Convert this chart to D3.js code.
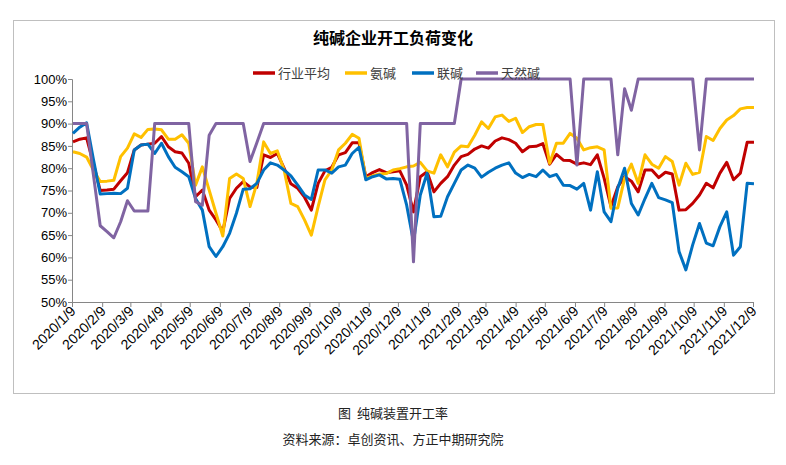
<!DOCTYPE html>
<html><head><meta charset="utf-8">
<script src="https://cdn.jsdelivr.net/npm/d3@7"></script>
<style>
html,body{margin:0;padding:0;background:#fff;}
svg{display:block;}
</style></head>
<body>
<svg id="chart" width="786" height="465"></svg>
<script>
const seriesNames = ["行业平均", "氨碱", "联碱", "天然碱"];
const seriesColors = ["#C00000", "#FFC000", "#0070C0", "#8064A2"];
const tickLabels = ["2020/1/9","2020/2/9","2020/3/9","2020/4/9","2020/5/9","2020/6/9","2020/7/9","2020/8/9","2020/9/9","2020/10/9","2020/11/9","2020/12/9","2021/1/9","2021/2/9","2021/3/9","2021/4/9","2021/5/9","2021/6/9","2021/7/9","2021/8/9","2021/9/9","2021/10/9","2021/11/9","2021/12/9"];
const yTicks = [50,55,60,65,70,75,80,85,90,95,100];

const industryAvg = [85.9,86.5,86.8,81,75,75.1,75.3,77.2,79,84.1,85.2,85.4,85.6,87.1,84.8,83.7,83.4,81.1,73.6,75.1,70.6,68.4,65.8,73.2,75.5,77,75.8,75.7,83,82.4,83.3,80,76.5,75.5,73.5,70.6,76.6,79.4,80.2,83,83.5,85.7,85.7,78.1,79,79.7,79,79.2,79.4,76.2,70.2,78.1,79.2,74.7,76.6,78.1,80.7,82.6,83.1,84.3,85,84.5,86.1,86.8,86.4,85.6,83.7,84.8,84.9,85.5,80.9,83.1,81.8,81.7,80.9,81.2,80.8,83,77.7,71.4,75.8,78.1,77.1,74.7,79.6,79.6,77.9,79.1,78.7,70.6,70.7,72.1,74,76.6,75.6,78.9,81.3,77.4,78.9,85.8,85.8];
const ammoniaSoda = [83.7,83.3,82.5,79.6,77,77.1,77.3,82.6,84.5,87.7,86.9,88.7,88.8,88.6,86.5,86.5,87.5,85.6,76.2,80.3,75.1,69.9,64.8,77.7,78.7,77.7,71.4,76.6,85.9,83.3,83.9,79.6,72.1,71.4,68.4,65,71.4,77.4,79.6,84.1,85.6,87.6,86.7,77.7,78.3,78.7,78.8,79.6,79.9,80.3,80.5,81.3,79.4,78.9,83,80.3,83.6,85,84.8,87.4,90.4,88.9,91.5,91.9,90.5,91.2,88,89.3,89.8,89.8,81.1,85.6,85.6,87.8,86.7,84.1,84.6,84.8,84.1,71,71.1,77.7,80.9,76.6,83,80.9,80,82.6,81.5,76.2,81.1,78.6,79.1,87.1,86.2,88.9,90.8,91.8,93.3,93.6,93.6];
const jointSoda = [87.8,89.2,90.2,82,74.2,74.3,74.4,74.3,75.5,84.1,85.2,85.4,83.3,85.6,82.6,80.2,79.2,78.1,73.2,70.6,62.4,60.2,62.4,65.4,69.9,75.3,75.4,76.6,79.6,81.2,80.7,79.6,78.3,76.2,74,73,79.6,79.6,78.9,80.3,80.7,83.3,84.7,77.4,78.1,78.5,77.6,77.7,77.5,71.7,63.5,74,78.9,69.1,69.2,73.6,76.6,79.6,80.7,80,78,79.1,80,80.7,81.2,78.9,77.9,78.6,78.1,79.6,78.1,78.6,76.2,76.1,75.3,76.6,70.6,79.2,70.2,68,75.5,80,72.1,69.5,73.2,76.6,73.4,72.9,72.3,61.3,57.2,62.8,67.6,63.2,62.6,66.9,70.2,60.5,62.4,76.6,76.5];
const naturalSoda = [90,90,90,78.5,67.1,65.8,64.4,68,72.7,70.4,70.4,70.4,90,90,90,90,90,90,72.5,71.7,87.4,90,90,90,90,90,81.5,85.7,90,90,90,90,90,90,90,90,90,90,90,90,90,90,90,90,90,90,90,90,90,90,59,90,90,90,90,90,90,100,100,100,100,100,100,100,100,100,100,100,100,100,100,100,100,100,80.7,100,100,100,100,100,83,97.8,93,100,100,100,100,100,100,100,100,100,84.1,100,100,100,100,100,100,100,100];

const parse = d3.timeParse("%Y/%m/%d");
const dates = d3.timeFriday.range(new Date(2020,0,10), new Date(2021,11,11));
const tickDates = tickLabels.map(parse);

const svg = d3.select("#chart");
const plotLeft = 72, plotRight = 753, plotTop = 79, plotBottom = 302;

svg.append("rect").attr("x",13.5).attr("y",20.5).attr("width",761).attr("height",373)
  .attr("fill","#fff").attr("stroke","#BFBFBF").attr("stroke-width",1);

const x = d3.scaleTime().domain([tickDates[0], tickDates[tickDates.length-1]]).range([plotLeft, plotRight]);
const y = d3.scaleLinear().domain([50,100]).range([plotBottom, plotTop]);

svg.append("text").attr("x",393).attr("y",44).attr("text-anchor","middle")
  .attr("font-family","'Noto Sans CJK SC'").attr("font-weight","bold").attr("font-size",16)
  .attr("fill","#000").text("纯碱企业开工负荷变化");

const yAxis = svg.append("g").attr("transform",`translate(${plotLeft},0)`)
  .call(d3.axisLeft(y).tickValues(yTicks).tickSize(4).tickFormat(d => d + "%"));
yAxis.select(".domain").attr("stroke","#868686");
yAxis.selectAll(".tick line").attr("stroke","#868686");
yAxis.selectAll("text").attr("font-family","'Liberation Sans Narrow','Liberation Sans',sans-serif")
  .attr("font-size",13).attr("fill","#000").attr("x",-5);

const xAxis = svg.append("g").attr("transform",`translate(0,${plotBottom})`)
  .call(d3.axisBottom(x).tickValues(tickDates).tickSize(5).tickFormat((d,i) => tickLabels[i]));
xAxis.select(".domain").attr("stroke","#868686");
xAxis.selectAll(".tick line").attr("stroke","#868686");
xAxis.selectAll("text").attr("font-family","'Liberation Sans Narrow','Liberation Sans',sans-serif")
  .attr("font-size",14).attr("fill","#000")
  .attr("text-anchor","end").attr("dx",0).attr("dy",0)
  .attr("transform","translate(4,10) rotate(-45)").attr("y",0).attr("x",0);

const allSeries = [industryAvg, ammoniaSoda, jointSoda, naturalSoda];
const line = d3.line().x((d,i) => x(dates[i])).y(d => y(d));
allSeries.forEach((s, k) => {
  svg.append("path").datum(s).attr("d", line).attr("fill","none")
    .attr("stroke", seriesColors[k]).attr("stroke-width",3).attr("stroke-linejoin","round");
});

const legendX = [253, 345, 412, 476];
const lg = svg.append("g");
seriesNames.forEach((n,k) => {
  lg.append("line").attr("x1",legendX[k]).attr("x2",legendX[k]+22).attr("y1",73).attr("y2",73)
    .attr("stroke",seriesColors[k]).attr("stroke-width",3.5);
  lg.append("text").attr("x",legendX[k]+25).attr("y",78)
    .attr("font-family","'Noto Sans CJK SC'").attr("font-size",13).attr("fill","#404040").text(n);
});

svg.append("text").attr("x",393).attr("y",418).attr("text-anchor","middle")
  .attr("font-family","'Noto Sans CJK SC'").attr("font-size",13).attr("fill","#222").text("图\u00a0\u00a0纯碱装置开工率");
svg.append("text").attr("x",393).attr("y",444).attr("text-anchor","middle")
  .attr("font-family","'Noto Sans CJK SC'").attr("font-size",13).attr("fill","#222").text("资料来源：卓创资讯、方正中期研究院");
</script>
</body></html>
